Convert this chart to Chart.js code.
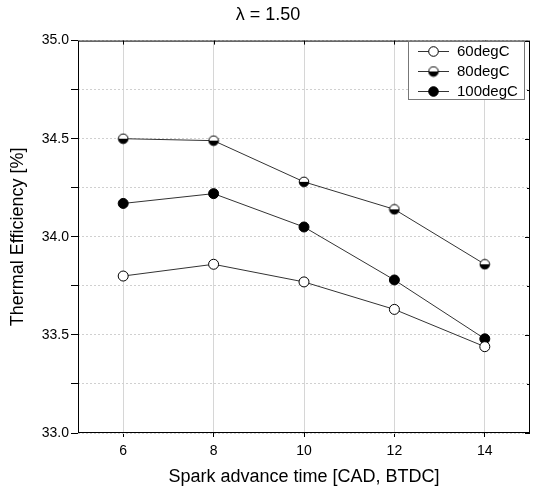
<!DOCTYPE html>
<html lang="en">
<head>
  <meta charset="UTF-8" />
  <title>Thermal Efficiency vs Spark Advance</title>
  <script src="https://cdn.jsdelivr.net/npm/chart.js"></script>
  <style>
    html, body { margin: 0; padding: 0; background: #fff; }
    #wrap { width: 536px; height: 488px; }
  </style>
</head>
<body>
  <div id="wrap"><canvas id="chart" width="536" height="488"></canvas></div>

  <script>
    const sparkAdvance = [6, 8, 10, 12, 14];
    const eff60 = [33.80, 33.86, 33.77, 33.63, 33.44];
    const eff80 = [34.50, 34.49, 34.28, 34.14, 33.86];
    const eff100 = [34.17, 34.22, 34.05, 33.78, 33.48];
    const xTicks = [6, 8, 10, 12, 14];
    const yTicks = [33.0, 33.25, 33.5, 33.75, 34.0, 34.25, 34.5, 34.75, 35.0];

    const FONT = 'Arial, "Liberation Sans", sans-serif';

    // half-filled marker (bottom half black)
    function halfMarker() {
      const c = document.createElement('canvas');
      c.width = 12; c.height = 12;
      const g = c.getContext('2d');
      g.beginPath(); g.arc(6, 6, 4.8, 0, Math.PI * 2);
      g.fillStyle = '#fff'; g.fill();
      g.beginPath(); g.arc(6, 6, 4.8, 0, Math.PI);
      g.closePath(); g.fillStyle = '#000'; g.fill();
      g.beginPath(); g.arc(6, 6, 4.8, 0, Math.PI * 2);
      g.strokeStyle = '#000'; g.lineWidth = 1; g.stroke();
      return c;
    }
    const half = halfMarker();

    const toXY = arr => arr.map((v, i) => ({ x: sparkAdvance[i], y: v }));
    const isMajor = v => Math.abs(v * 2 - Math.round(v * 2)) < 1e-6;

    function series(label, data, fill, style) {
      return {
        label: label,
        data: toXY(data),
        borderColor: '#333',
        borderWidth: 1,
        pointStyle: style || 'circle',
        pointRadius: 5,
        pointHoverRadius: 5,
        pointBackgroundColor: fill,
        pointBorderColor: '#000',
        pointBorderWidth: 1,
        tension: 0
      };
    }

    // frame, inner ticks, legend box
    const extras = {
      id: 'extras',
      afterDatasetsDraw(chart) {
        const { ctx, chartArea: a, scales } = chart;
        ctx.save();
        ctx.strokeStyle = '#000';
        ctx.lineWidth = 1;
        ctx.strokeRect(a.left + 0.5, a.top + 0.5, a.right - a.left - 1, a.bottom - a.top - 1);
        ctx.beginPath();
        xTicks.forEach(v => {
          const px = Math.round(scales.x.getPixelForValue(v)) + 0.5;
          ctx.moveTo(px, a.top); ctx.lineTo(px, a.top + 4);
        });
        yTicks.forEach(v => {
          const py = Math.round(scales.y.getPixelForValue(v)) + 0.5;
          const len = isMajor(v) ? 5 : 3;
          ctx.moveTo(a.right, py); ctx.lineTo(a.right - len, py);
        });
        ctx.stroke();

        // legend
        const bx = 408, by = 41, bw = 116, bh = 58;
        ctx.fillStyle = '#fff';
        ctx.fillRect(bx, by, bw, bh);
        ctx.strokeStyle = '#777';
        ctx.strokeRect(bx + 0.5, by + 0.5, bw, bh);
        ctx.font = '15px ' + FONT;
        ctx.textBaseline = 'middle';
        chart.data.datasets.forEach((ds, i) => {
          const y = by + 10 + i * 20;
          ctx.strokeStyle = '#333';
          ctx.beginPath(); ctx.moveTo(418, y + 0.5); ctx.lineTo(449, y + 0.5); ctx.stroke();
          if (ds.pointStyle === 'circle') {
            ctx.beginPath(); ctx.arc(433.5, y + 0.5, 4.8, 0, Math.PI * 2);
            ctx.fillStyle = ds.pointBackgroundColor; ctx.fill();
            ctx.strokeStyle = '#000'; ctx.stroke();
          } else {
            ctx.drawImage(ds.pointStyle, 427.5, y - 5.5);
          }
          ctx.fillStyle = '#000';
          ctx.fillText(ds.label, 457, y + 1);
        });
        ctx.restore();
      }
    };

    new Chart(document.getElementById('chart').getContext('2d'), {
      type: 'line',
      data: {
        datasets: [
          series('60degC', eff60, '#fff'),
          series('80degC', eff80, '#fff', half),
          series('100degC', eff100, '#000')
        ]
      },
      options: {
        responsive: false,
        animation: false,
        layout: { padding: { left: 3, right: 3, top: 0, bottom: 0 } },
        plugins: {
          legend: { display: false },
          tooltip: { enabled: false },
          title: {
            display: true,
            text: 'λ = 1.50',
            color: '#000',
            font: { family: FONT, size: 18, weight: 'normal' },
            padding: { top: 4, bottom: 15 }
          }
        },
        scales: {
          x: {
            type: 'linear',
            min: 5,
            max: 15,
            afterBuildTicks: s => { s.ticks = xTicks.map(v => ({ value: v })); },
            afterFit: s => { s.height = 55; },
            grid: { color: '#d6d6d6', lineWidth: 1, drawTicks: true, tickLength: 4, tickColor: '#000' },
            border: { display: false },
            ticks: { color: '#000', padding: 6, font: { family: FONT, size: 14 } },
            title: {
              display: true,
              text: 'Spark advance time [CAD, BTDC]',
              color: '#000',
              font: { family: FONT, size: 18 },
              padding: { top: 9, bottom: 0 }
            }
          },
          y: {
            min: 33,
            max: 35,
            afterBuildTicks: s => { s.ticks = yTicks.map(v => ({ value: v })); },
            afterFit: s => { s.width = 75; },
            grid: {
              color: '#d0d0d0',
              lineWidth: 1,
              tickColor: '#000',
              tickLength: 7,
              tickBorderDash: [],
              drawTicks: true
            },
            border: { display: false, dash: [2, 2] },
            ticks: {
              color: '#000',
              padding: 2,
              font: { family: FONT, size: 14 },
              callback: v => isMajor(v) ? v.toFixed(1) : ''
            },
            title: {
              display: true,
              text: 'Thermal Efficiency [%]',
              color: '#000',
              font: { family: FONT, size: 18 },
              padding: { bottom: 2 }
            }
          }
        }
      },
      plugins: [extras]
    });
  </script>
</body>
</html>
